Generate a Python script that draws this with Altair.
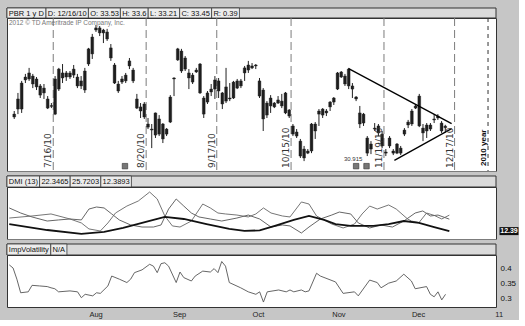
import altair as alt
import pandas as pd

# ---------------- values ----------------
HOLIDAYS = ["2010-09-06", "2010-11-25", "2010-12-24"]
FIRST_SESSION = "2010-07-02"

opens = [34.00, 34.41, 34.41, 35.91, 35.96, 36.11, 35.96, 35.60, 35.24, 34.93,
         34.59, 34.15, 35.44, 36.27, 36.06, 36.27, 36.16, 36.06, 35.86, 35.39,
         36.73, 37.25, 38.48, 38.59, 38.48, 38.38, 37.56, 36.68, 35.70, 35.80,
         35.86, 36.63, 36.42, 34.93, 34.52, 34.67, 33.64, 33.38, 34.21, 33.90,
         33.64, 33.12, 33.74, 35.96, 36.94, 37.40, 37.04, 36.27, 36.16, 36.32,
         36.73, 34.98, 34.77, 35.29, 35.44, 35.86, 35.24, 34.82, 34.98, 34.98,
         35.49, 35.86, 36.27, 36.42, 36.53, 36.63, 35.86, 35.39, 34.10, 34.57,
         34.72, 34.72, 34.82, 34.21, 34.36, 33.54, 33.23, 32.76, 32.35, 32.14,
         32.25, 33.64, 34.15, 34.41, 34.21, 34.52, 34.77, 35.44, 36.32, 36.11,
         35.60, 35.60, 35.03, 34.21, 34.15, 32.92, 32.35, 33.38, 33.54, 33.12,
         32.20, 32.51, 32.25, 32.14, 32.40, 33.12, 33.59, 33.64, 34.46, 35.08,
         33.43, 33.28, 33.38, 33.85, 33.95, 33.69, 33.53]
highs = [34.31, 35.24, 35.86, 36.22, 36.53, 36.22, 36.06, 35.70, 35.70, 35.08,
         34.72, 36.11, 36.53, 36.73, 36.37, 36.37, 36.68, 36.22, 36.11, 36.53,
         37.56, 38.28, 38.74, 38.69, 38.54, 38.54, 37.76, 36.78, 35.86, 36.11,
         36.27, 37.04, 36.53, 35.19, 34.72, 34.77, 33.95, 33.64, 34.23, 34.10,
         33.69, 33.43, 35.13, 36.05, 37.56, 37.51, 37.14, 36.47, 36.27, 36.53,
         36.78, 35.08, 35.34, 35.70, 36.11, 36.01, 35.29, 36.53, 35.75, 35.86,
         35.96, 35.96, 36.63, 36.89, 36.78, 36.73, 36.01, 35.49, 34.82, 35.13,
         34.77, 35.08, 35.19, 35.29, 34.41, 33.64, 33.38, 32.87, 32.51, 32.35,
         33.69, 33.74, 34.41, 34.46, 34.41, 34.82, 35.03, 36.32, 36.37, 36.22,
         36.53, 35.75, 35.08, 34.57, 34.21, 33.02, 32.76, 33.69, 33.64, 33.28,
         32.35, 33.02, 32.35, 32.66, 32.51, 33.43, 33.85, 34.41, 34.67, 35.19,
         33.64, 33.69, 33.69, 34.15, 34.15, 33.79, 33.60]
lows = [33.90, 34.15, 34.21, 35.75, 35.86, 35.49, 35.39, 34.98, 34.93, 34.41,
        34.46, 34.10, 35.34, 35.75, 35.86, 35.96, 36.01, 35.49, 35.44, 35.24,
        36.63, 36.99, 38.38, 38.17, 37.81, 37.92, 36.89, 35.70, 35.24, 35.70,
        35.75, 36.47, 35.75, 34.41, 33.95, 33.90, 33.38, 32.40, 32.92, 33.02,
        32.66, 33.02, 33.69, 35.08, 36.89, 36.27, 36.37, 35.44, 35.70, 36.27,
        35.19, 33.95, 34.67, 35.08, 34.93, 34.98, 34.41, 34.72, 34.82, 34.93,
        35.44, 35.49, 35.86, 36.27, 36.47, 36.47, 34.98, 33.28, 33.95, 34.21,
        34.46, 34.67, 34.46, 34.15, 33.95, 33.02, 32.92, 31.89, 31.73, 32.09,
        32.14, 32.87, 33.54, 33.95, 34.05, 34.31, 34.62, 35.39, 36.01, 35.60,
        35.44, 34.98, 34.82, 33.43, 33.54, 31.99, 32.09, 33.28, 33.02, 32.40,
        31.99, 32.40, 32.04, 32.09, 32.04, 33.02, 33.43, 33.54, 34.41, 33.48,
        32.76, 32.92, 33.28, 33.69, 33.85, 33.18, 33.21]
closes = [34.15, 34.93, 35.75, 36.06, 36.27, 35.70, 35.55, 35.13, 35.49, 34.46,
          34.55, 35.96, 36.47, 36.01, 36.27, 36.06, 36.47, 35.60, 35.60, 36.37,
          37.51, 38.12, 38.59, 38.33, 38.33, 38.02, 37.04, 35.75, 35.34, 35.96,
          36.16, 36.89, 35.86, 34.46, 34.31, 34.00, 33.48, 33.33, 33.07, 33.12,
          32.87, 33.38, 35.03, 36.01, 37.51, 36.37, 36.47, 36.01, 35.80, 36.42,
          35.24, 34.15, 35.24, 35.44, 35.91, 35.34, 34.67, 35.55, 34.93, 35.80,
          35.86, 35.60, 36.53, 36.68, 36.63, 36.68, 35.08, 33.90, 34.72, 34.98,
          34.52, 34.88, 34.57, 35.24, 34.05, 33.12, 33.02, 31.99, 31.89, 32.25,
          33.64, 33.28, 34.31, 34.10, 34.31, 34.77, 34.98, 36.27, 36.06, 35.70,
          36.47, 35.44, 34.93, 33.64, 33.69, 32.14, 32.61, 33.43, 33.18, 32.51,
          32.14, 32.92, 32.14, 32.61, 32.14, 33.33, 33.74, 34.31, 34.57, 33.54,
          33.18, 33.59, 33.59, 33.90, 34.05, 33.28, 33.45]

trend_grp = ["upper", "upper", "lower", "lower"]
trend_idx = [90.0, 117.7, 102.3, 117.7]
trend_px = [36.49, 33.66, 31.77, 33.40]

date_line_dates = ["2010-07-16", "2010-08-20", "2010-09-17", "2010-10-15", "2010-11-19", "2010-12-17"]
date_line_labels = ["7/16/10", "8/20/10", "9/17/10", "10/15/10", "11/19/10", "12/17/10"]
year_line_date = "2010-12-31"
year_line_label = "2010 year"
month_starts = ["2010-08-02", "2010-09-01", "2010-10-01", "2010-11-01", "2010-12-01", "2011-01-03"]
month_labels = ["Aug", "Sep", "Oct", "Nov", "Dec", "11"]

price_ticks = [32, 33, 34, 35, 36, 37, 38, 39]
dmi_ticks = [20, 40]
iv_ticks = [0.3, 0.35, 0.4]

hdr_price = ["PBR 1 y D", "D: 12/16/10", "O: 33.53", "H: 33.6", "L: 33.21", "C: 33.45", "R: 0.39"]
hdr_dmi = ["DMI (13)", "22.3465", "25.7203", "12.3893"]
hdr_iv = ["ImpVolatility", "N/A"]
copyright_text = "2012 \u00a9 TD Ameritrade IP Company, Inc."
low_note_text = ["30.915"]
low_note_idx = [91.2]
low_note_px = [31.84]
icon_idx = [29.8, 92.0, 94.8]
icon_px = [31.47, 31.47, 31.47]

plus_idx = [0, 3, 6, 10, 13, 16, 19, 21, 23, 25, 27, 29, 32, 35, 38, 40, 42, 44, 46, 48,
            50, 53, 56, 60, 63, 66, 69, 72, 74, 77, 79, 82, 85, 87, 90, 92, 95, 98, 101, 104,
            107, 109, 111, 113, 116]
plus_vals = [31.7, 27.5, 24.2, 20.8, 21.7, 22.5, 21.7, 30.8, 32.5, 31.7, 26.7, 21.7, 17.5, 15.8,
             15.8, 17.5, 30.8, 39.2, 33.3, 27.5, 24.2, 22.5, 20.8, 23.3, 25.8, 22.5, 15.8, 17.5,
             16.7, 10.8, 15.8, 22.5, 25.8, 28.3, 26.7, 19.2, 15.0, 17.5, 15.8, 20.8, 27.5, 29.2,
             25.0, 25.8, 22.35]
minus_idx = [0, 6, 11, 16, 19, 21, 24, 26, 28, 31, 34, 37, 39, 41, 43, 45, 48, 51, 53, 55,
             57, 60, 63, 65, 67, 69, 72, 74, 77, 79, 81, 85, 88, 91, 93, 95, 97, 100, 102, 105,
             106, 108, 110, 112, 114, 116]
minus_vals = [23.3, 25.0, 26.7, 22.5, 19.2, 14.2, 12.5, 19.2, 27.5, 33.3, 37.5, 45.0, 39.2, 25.0,
              16.7, 15.8, 20.8, 35.0, 31.7, 27.5, 26.7, 25.8, 24.2, 26.7, 31.7, 27.5, 25.0, 24.2,
              36.7, 35.0, 25.0, 18.3, 15.0, 18.3, 26.7, 33.3, 30.8, 34.2, 30.8, 22.5, 20.8, 19.5,
              27.5, 25.5, 22.5, 25.72]
adx_idx = [0, 10, 19, 25, 30, 35, 41, 46, 52, 58, 62, 66, 70, 75, 79, 83, 86, 90, 96, 100,
           104, 108, 112, 116]
adx_vals = [18.3, 13.3, 10.0, 11.7, 15.0, 19.2, 24.2, 22.5, 18.3, 14.2, 12.5, 13.0, 16.7, 21.7,
            25.0, 21.7, 18.3, 16.7, 16.7, 18.3, 20.8, 19.2, 15.8, 12.39]

iv_idx = [0, 1, 2, 3, 5, 6, 8, 10, 11, 12, 13, 16, 18, 19, 20, 22, 23, 24, 26, 27,
          29, 31, 32, 33, 35, 37, 38, 39, 40, 41, 42, 44, 45, 46, 48, 49, 51, 53, 54, 55,
          56, 57, 58, 61, 63, 65, 66, 67, 68, 71, 73, 74, 75, 77, 78, 79, 81, 82, 86, 88,
          91, 92, 95, 97, 98, 100, 102, 104, 106, 107, 110, 111, 112, 113, 114, 115]
iv_vals = [0.410, 0.400, 0.364, 0.320, 0.323, 0.344, 0.342, 0.340, 0.336, 0.333,
           0.323, 0.326, 0.323, 0.304, 0.315, 0.310, 0.320, 0.318, 0.342, 0.374,
           0.364, 0.353, 0.364, 0.385, 0.394, 0.412, 0.406, 0.385, 0.414, 0.417,
           0.406, 0.353, 0.387, 0.369, 0.358, 0.374, 0.390, 0.387, 0.398, 0.385,
           0.421, 0.406, 0.353, 0.336, 0.323, 0.315, 0.323, 0.290, 0.323, 0.329,
           0.323, 0.329, 0.323, 0.329, 0.323, 0.326, 0.383, 0.374, 0.355, 0.318,
           0.323, 0.310, 0.361, 0.353, 0.336, 0.351, 0.358, 0.380, 0.358, 0.333,
           0.340, 0.315, 0.307, 0.323, 0.297, 0.315]

# ---------------- layout / style ----------------
W = 489
H_HDR1, H_PRICE, H_HDR, H_SUB, GAP = 10, 153, 11, 52, 5
FONT = "Liberation Sans"
BG = "#c6c6c6"
HDR_FS = 7.5

cal = [d for d in pd.bdate_range(FIRST_SESSION, "2011-01-07")
       if d.strftime("%Y-%m-%d") not in HOLIDAYS]
pos = {d.strftime("%Y-%m-%d"): i for i, d in enumerate(cal)}

candles = pd.DataFrame({"idx": list(range(len(opens))),
                        "date": [cal[i].strftime("%Y-%m-%d") for i in range(len(opens))],
                        "open": opens, "high": highs, "low": lows, "close": closes})

XS = alt.Scale(domain=[-0.6, 128.3], nice=False, zero=False)
PS = alt.Scale(domain=[31.22, 39.1], nice=False, zero=False)
DS = alt.Scale(domain=[5.8, 49.2], nice=False, zero=False)
IS = alt.Scale(domain=[0.274, 0.442], nice=False, zero=False)


def right_axis(values, fmt):
    return alt.Axis(orient="right", values=values, format=fmt, ticks=False, domain=False,
                    grid=False, labelPadding=4, title=None, labelFontSize=8,
                    labelColor="#111", labelFont=FONT)


def text_w(s, size):
    w = 0.0
    for ch in s:
        if ch.isdigit():
            w += 0.556
        elif ch in " :./,":
            w += 0.278
        elif ch in "()":
            w += 0.333
        elif ch in "Mm":
            w += 0.833
        elif ch in "DHCRNO":
            w += 0.74
        elif ch in "Ilit":
            w += 0.25
        elif ch.isupper():
            w += 0.667
        else:
            w += 0.53
    return w * size


def header(labels, h, gap):
    rows, x = [], 0.0
    for lab in labels:
        w = text_w(lab, HDR_FS) + 3.5
        rows.append({"label": lab, "x0": x, "x1": x + w, "tx": x + 1.8})
        x += w
    df = pd.DataFrame(rows)
    hs = alt.Scale(domain=[0, W], nice=False, zero=False)
    strip = alt.Chart(pd.DataFrame({"a": [0], "b": [W]})).mark_rect(
        fill="#dadada", stroke="#333", strokeWidth=1).encode(
        x=alt.X("a:Q", scale=hs, axis=None), x2="b:Q",
        y=alt.value(gap), y2=alt.value(gap + h))
    boxes = alt.Chart(df).mark_rect(fill="#ececec", stroke="#3a3a3a", strokeWidth=0.8).encode(
        x=alt.X("x0:Q", scale=hs, axis=None), x2="x1:Q",
        y=alt.value(gap), y2=alt.value(gap + h))
    texts = alt.Chart(df).mark_text(align="left", baseline="middle", fontSize=HDR_FS,
                                    color="#111", font=FONT, dy=0.5).encode(
        x=alt.X("tx:Q", scale=hs, axis=None), y=alt.value(gap + h / 2), text="label:N")
    return alt.layer(strip, boxes, texts).properties(
        width=W, height=gap + h,
        view=alt.ViewBackground(fill=BG, stroke="transparent"))


# ---------------- price panel ----------------
dl = pd.DataFrame({"label": date_line_labels,
                   "xpos": [pos[d] + 0.5 for d in date_line_dates]})
yl = pd.DataFrame({"label": [year_line_label], "xpos": [pos[year_line_date] + 0.5]})
trend = pd.DataFrame({"grp": trend_grp, "idx": trend_idx, "px": trend_px})

vlines = alt.Chart(dl).mark_rule(color="#7c7c7c", strokeDash=[8, 4], strokeWidth=1).encode(
    x=alt.X("xpos:Q", scale=XS, axis=None))
vlabels = alt.Chart(dl).mark_text(angle=270, align="left", baseline="bottom", fontSize=9,
                                  color="#333", font="DejaVu Sans").encode(
    x=alt.X("xpos:Q", scale=XS, axis=None), y=alt.value(H_PRICE - 3), text="label:N")
yline = alt.Chart(yl).mark_rule(color="#333", strokeDash=[4, 4], strokeWidth=1).encode(
    x=alt.X("xpos:Q", scale=XS, axis=None))
ylabel = alt.Chart(yl).mark_text(angle=270, align="left", baseline="bottom", fontSize=8,
                                 fontWeight="bold", color="#111", font=FONT).encode(
    x=alt.X("xpos:Q", scale=XS, axis=None), y=alt.value(H_PRICE - 5), text="label:N")

wicks = alt.Chart(candles).mark_rule(color="#222", strokeWidth=1).encode(
    x=alt.X("idx:Q", scale=XS, axis=None),
    y=alt.Y("low:Q", scale=PS, axis=right_axis(price_ticks, "d")),
    y2="high:Q")
bodies = alt.Chart(candles).mark_bar(size=2.8, color="#1e1e1e", stroke="#1e1e1e",
                                     strokeWidth=0.4).encode(
    x=alt.X("idx:Q", scale=XS, axis=None),
    y=alt.Y("open:Q", scale=PS, axis=None), y2="close:Q")
tlines = alt.Chart(trend).mark_line(color="#000", strokeWidth=1.3).encode(
    x=alt.X("idx:Q", scale=XS, axis=None),
    y=alt.Y("px:Q", scale=PS, axis=None), detail="grp:N")
copy = alt.Chart(pd.DataFrame({"t": [copyright_text]})).mark_text(
    align="left", baseline="top", fontSize=6.5, color="#777", font=FONT).encode(
    x=alt.value(2), y=alt.value(2), text="t:N")
note = alt.Chart(pd.DataFrame({"t": low_note_text, "idx": low_note_idx, "px": low_note_px})).mark_text(
    fontSize=6, color="#333", font=FONT).encode(
    x=alt.X("idx:Q", scale=XS, axis=None), y=alt.Y("px:Q", scale=PS, axis=None), text="t:N")
icons = alt.Chart(pd.DataFrame({"idx": icon_idx, "px": icon_px})).mark_square(
    size=30, color="#777", opacity=1, stroke="#333", strokeWidth=0.6).encode(
    x=alt.X("idx:Q", scale=XS, axis=None), y=alt.Y("px:Q", scale=PS, axis=None))

price = alt.layer(vlines, yline, wicks, bodies, tlines, vlabels, ylabel, copy, note, icons).properties(
    width=W, height=H_PRICE, view=alt.ViewBackground(fill="white", stroke="#333", strokeWidth=1))

# ---------------- DMI panel ----------------
d_plus = pd.DataFrame({"idx": plus_idx, "val": plus_vals})
d_minus = pd.DataFrame({"idx": minus_idx, "val": minus_vals})
d_adx = pd.DataFrame({"idx": adx_idx, "val": adx_vals})
adx_tag = pd.DataFrame({"val": [adx_vals[-1]], "txt": [f"{adx_vals[-1]:.2f}"]})

l_plus = alt.Chart(d_plus).mark_line(color="#555", strokeWidth=0.9).encode(
    x=alt.X("idx:Q", scale=XS, axis=None),
    y=alt.Y("val:Q", scale=DS, axis=right_axis(dmi_ticks, "d")))
l_minus = alt.Chart(d_minus).mark_line(color="#666", strokeWidth=0.9).encode(
    x=alt.X("idx:Q", scale=XS, axis=None), y=alt.Y("val:Q", scale=DS, axis=None))
l_adx = alt.Chart(d_adx).mark_line(color="#111", strokeWidth=1.8).encode(
    x=alt.X("idx:Q", scale=XS, axis=None), y=alt.Y("val:Q", scale=DS, axis=None))
tag = alt.Chart(adx_tag).mark_tick(orient="horizontal", size=19, thickness=8, color="#111",
                                   opacity=1).encode(
    x=alt.value(W + 13), y=alt.Y("val:Q", scale=DS, axis=None))
tag_t = alt.Chart(adx_tag).mark_text(color="white", fontSize=7, fontWeight="bold",
                                     font=FONT, baseline="middle").encode(
    x=alt.value(W + 13), y=alt.Y("val:Q", scale=DS, axis=None), text="txt:N")
dmi = alt.layer(l_plus, l_minus, l_adx, tag, tag_t).properties(
    width=W, height=H_SUB, view=alt.ViewBackground(fill="white", stroke="#333", strokeWidth=1))

# ---------------- implied volatility panel ----------------
iv_df = pd.DataFrame({"idx": iv_idx, "val": iv_vals})
month_idx = [pos[d] for d in month_starts]
expr = "".join(f"datum.value == {i} ? '{lab}' : " for i, lab in zip(month_idx, month_labels)) + "''"
iv = alt.Chart(iv_df).mark_line(color="#555", strokeWidth=0.9).encode(
    x=alt.X("idx:Q", scale=XS,
            axis=alt.Axis(orient="bottom", values=month_idx, labelExpr=expr, labelAlign="left",
                          labelFlush=False, labelOverlap=False, ticks=False, domain=False,
                          grid=False, labelPadding=3, labelFontSize=7.5, labelColor="#222",
                          labelFont=FONT, title=None)),
    y=alt.Y("val:Q", scale=IS, axis=right_axis(iv_ticks, ".2~f"))).properties(
    width=W, height=H_SUB, view=alt.ViewBackground(fill="white", stroke="#333", strokeWidth=1))

# ---------------- assemble ----------------
chart = alt.vconcat(
    header(hdr_price, H_HDR1, 0), price,
    header(hdr_dmi, H_HDR, GAP), dmi,
    header(hdr_iv, H_HDR, GAP), iv,
    spacing=0, bounds="flush"
).resolve_scale(x="independent", y="independent").properties(
    background=BG, padding={"left": 5, "top": 7, "right": 0, "bottom": 2}
).configure(font=FONT)

chart.save("out.html", embed_options={"renderer": "svg", "actions": False})
